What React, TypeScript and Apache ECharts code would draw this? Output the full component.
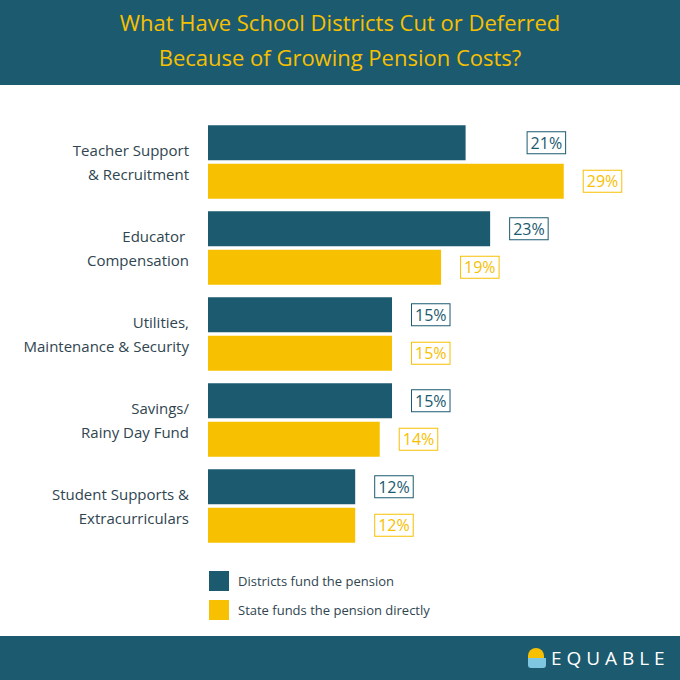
import { useEffect, useRef } from 'react';
import * as echarts from 'echarts';

const categories = [
  'Teacher Support\n& Recruitment',
  'Educator \nCompensation',
  'Utilities,\nMaintenance & Security',
  'Savings/\nRainy Day Fund',
  'Student Supports &\nExtracurriculars',
];
const districtValues = [21, 23, 15, 15, 12];
const stateValues = [29, 19, 15, 14, 12];

const TEAL = '#1b5a6f';
const YELLOW = '#f7c000';
const FONT = 'Open Sans';

export default function App() {
  const ref = useRef<HTMLDivElement>(null);

  useEffect(() => {
    if (!ref.current) return;
    const chart = echarts.init(ref.current, null, { renderer: 'svg' });

    const label = (color: string) => ({
      show: true,
      position: 'right' as const,
      distance: 20,
      formatter: '{c}%',
      color,
      fontFamily: FONT,
      fontSize: 16,
      backgroundColor: '#fff',
      borderColor: color,
      borderWidth: 1,
      padding: [4, 3, 1, 3],
    });

    // the first dark label sits further out in the original
    const districtData = districtValues.map((v, i) =>
      i === 0 ? { value: v, label: { distance: 62 } } : v
    );

    chart.setOption({
      animation: false,
      backgroundColor: '#fff',
      title: {
        text: 'What Have School Districts Cut or Deferred\nBecause of Growing Pension Costs?',
        left: 'center',
        top: -1,
        textStyle: {
          color: YELLOW,
          fontFamily: FONT,
          fontSize: 22,
          fontWeight: 'normal',
          lineHeight: 35,
        },
      },
      graphic: [
        { type: 'rect', z: -1, shape: { x: 0, y: 0, width: 680, height: 85 }, style: { fill: TEAL } },
        { type: 'rect', z: -1, shape: { x: 0, y: 636, width: 680, height: 44 }, style: { fill: TEAL } },
        { type: 'rect', shape: { x: 528, y: 648, width: 16, height: 10, r: [8, 8, 0, 0] }, style: { fill: YELLOW } },
        { type: 'rect', shape: { x: 528, y: 658, width: 18, height: 10, r: [0, 0, 3, 3] }, style: { fill: '#7fc6e0' } },
        {
          type: 'text',
          left: 551,
          top: 648,
          style: { text: 'E Q U A B L E', fill: '#fff', font: `19px ${FONT}` },
        },
      ],
      legend: {
        orient: 'vertical',
        left: 204,
        top: 566,
        itemWidth: 20,
        itemHeight: 20,
        itemGap: 9,
        icon: 'rect',
        textStyle: { color: '#2f4550', fontFamily: FONT, fontSize: 13, padding: [0, 0, 0, 4] },
        data: ['Districts fund the pension', 'State funds the pension directly'],
      },
      grid: { left: 208, right: 104, top: 119, bottom: 131 },
      xAxis: { type: 'value', min: 0, max: 30, show: false },
      yAxis: {
        type: 'category',
        inverse: true,
        data: categories,
        axisLine: { show: false },
        axisTick: { show: false },
        axisLabel: {
          color: '#2f4550',
          fontFamily: FONT,
          fontSize: 15,
          lineHeight: 24,
          margin: 19,
          padding: [0, 0, 6, 0],
        },
      },
      series: [
        {
          name: 'Districts fund the pension',
          type: 'bar',
          data: districtData,
          barWidth: 35,
          barGap: '10%',
          itemStyle: { color: TEAL },
          label: label(TEAL),
        },
        {
          name: 'State funds the pension directly',
          type: 'bar',
          data: stateValues,
          barWidth: 35,
          itemStyle: { color: YELLOW },
          label: label(YELLOW),
        },
      ],
    });

    return () => chart.dispose();
  }, []);

  return <div ref={ref} style={{ position: 'fixed', left: 0, top: 0, width: 680, height: 680 }} />;
}
